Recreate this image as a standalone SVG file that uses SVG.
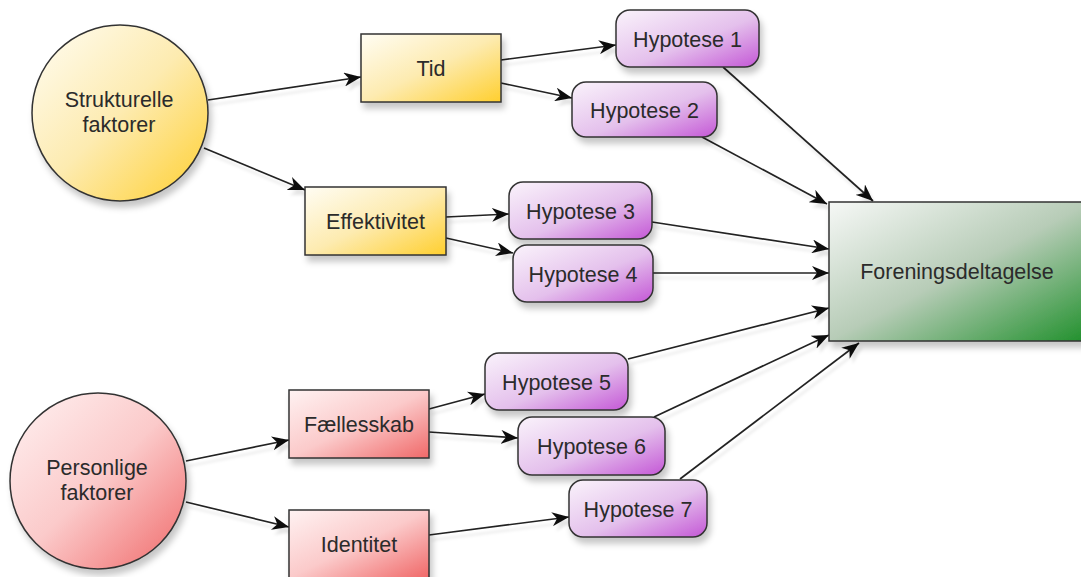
<svg xmlns="http://www.w3.org/2000/svg" width="1081" height="577" viewBox="0 0 1081 577">
  <defs>
    <linearGradient id="gYellow" x1="0" y1="0" x2="1" y2="1">
      <stop offset="0" stop-color="#fffdf4"/>
      <stop offset="0.5" stop-color="#fdebb0"/>
      <stop offset="1" stop-color="#ffcf2e"/>
    </linearGradient>
    <linearGradient id="gRed" x1="0" y1="0" x2="1" y2="1">
      <stop offset="0" stop-color="#fff2f2"/>
      <stop offset="0.5" stop-color="#fbcaca"/>
      <stop offset="1" stop-color="#f06868"/>
    </linearGradient>
    <linearGradient id="gPurple" x1="0" y1="0" x2="1" y2="1">
      <stop offset="0" stop-color="#faf3fb"/>
      <stop offset="0.55" stop-color="#e4c0ec"/>
      <stop offset="1" stop-color="#c457d6"/>
    </linearGradient>
    <linearGradient id="gGreen" x1="0" y1="0" x2="1" y2="1">
      <stop offset="0" stop-color="#f6f8f6"/>
      <stop offset="0.5" stop-color="#b7ccb7"/>
      <stop offset="1" stop-color="#1e8f2a"/>
    </linearGradient>
    <filter id="shadow" x="-20%" y="-20%" width="150%" height="160%">
      <feDropShadow dx="3" dy="6" stdDeviation="3" flood-color="#000" flood-opacity="0.22"/>
    </filter>
    <filter id="lshadow" x="-10%" y="-10%" width="130%" height="140%">
      <feDropShadow dx="3" dy="5" stdDeviation="1.5" flood-color="#000" flood-opacity="0.10"/>
    </filter>
    <marker id="arrow" markerUnits="userSpaceOnUse" markerWidth="18" markerHeight="14" refX="17" refY="7" orient="auto">
      <path d="M0,0 L17,7 L0,14 L5,7 Z" fill="#111"/>
    </marker>
  </defs>
  <style>
    .node { stroke: #333; stroke-width: 1.5; filter: url(#shadow); }
    .lbl { font-family: "Liberation Sans", Arial, sans-serif; font-size: 21.5px; fill: #2b2b2b; text-anchor: middle; }
    .conn line { stroke: #222; stroke-width: 1.7; marker-end: url(#arrow); }
  </style>

  <g id="connectors" class="conn" filter="url(#lshadow)">
    <line x1="208" y1="100" x2="361" y2="77"/>
    <line x1="204" y1="148" x2="305" y2="190"/>
    <line x1="501" y1="60" x2="616" y2="45"/>
    <line x1="501" y1="83" x2="572" y2="98"/>
    <line x1="446" y1="217" x2="509" y2="214"/>
    <line x1="446" y1="238" x2="513" y2="253"/>
    <line x1="723" y1="67" x2="873" y2="201"/>
    <line x1="702" y1="137" x2="827" y2="204"/>
    <line x1="652" y1="222" x2="829" y2="249"/>
    <line x1="653" y1="273" x2="829" y2="273"/>
    <line x1="628" y1="359" x2="829" y2="308"/>
    <line x1="654" y1="417" x2="829" y2="335"/>
    <line x1="680" y1="479" x2="859" y2="343"/>
    <line x1="186" y1="461" x2="289" y2="440"/>
    <line x1="186" y1="502" x2="289" y2="527"/>
    <line x1="429" y1="409" x2="485" y2="394"/>
    <line x1="429" y1="432" x2="518" y2="438"/>
    <line x1="429" y1="535" x2="569" y2="517"/>
  </g>

  <g id="strukturelle">
    <circle class="node" cx="120" cy="113" r="88" fill="url(#gYellow)"/>
    <text class="lbl" x="119" y="107">Strukturelle</text>
    <text class="lbl" x="119" y="132">faktorer</text>
  </g>
  <g id="personlige">
    <circle class="node" cx="98" cy="481" r="88" fill="url(#gRed)"/>
    <text class="lbl" x="97" y="475">Personlige</text>
    <text class="lbl" x="97" y="500">faktorer</text>
  </g>
  <g id="tid">
    <rect class="node" x="361" y="34" width="140" height="68" fill="url(#gYellow)"/>
    <text class="lbl" x="431" y="76">Tid</text>
  </g>
  <g id="effektivitet">
    <rect class="node" x="305" y="187" width="141" height="68" fill="url(#gYellow)"/>
    <text class="lbl" x="375.5" y="229">Effektivitet</text>
  </g>
  <g id="faellesskab">
    <rect class="node" x="289" y="390" width="140" height="68" fill="url(#gRed)"/>
    <text class="lbl" x="359" y="432">Fællesskab</text>
  </g>
  <g id="identitet">
    <rect class="node" x="289" y="510" width="140" height="68" fill="url(#gRed)"/>
    <text class="lbl" x="359" y="552">Identitet</text>
  </g>
  <g id="hyp1">
    <rect class="node" x="616" y="10" width="143" height="57" rx="14" fill="url(#gPurple)"/>
    <text class="lbl" x="687.5" y="46.5">Hypotese 1</text>
  </g>
  <g id="hyp2">
    <rect class="node" x="572" y="82" width="145" height="55" rx="14" fill="url(#gPurple)"/>
    <text class="lbl" x="644.5" y="117.5">Hypotese 2</text>
  </g>
  <g id="hyp3">
    <rect class="node" x="509" y="182" width="143" height="57" rx="14" fill="url(#gPurple)"/>
    <text class="lbl" x="580.5" y="218.5">Hypotese 3</text>
  </g>
  <g id="hyp4">
    <rect class="node" x="513" y="245" width="140" height="57" rx="14" fill="url(#gPurple)"/>
    <text class="lbl" x="583" y="281.5">Hypotese 4</text>
  </g>
  <g id="hyp5">
    <rect class="node" x="485" y="353" width="143" height="57" rx="14" fill="url(#gPurple)"/>
    <text class="lbl" x="556.5" y="389.5">Hypotese 5</text>
  </g>
  <g id="hyp6">
    <rect class="node" x="518" y="417" width="147" height="58" rx="14" fill="url(#gPurple)"/>
    <text class="lbl" x="591.5" y="454">Hypotese 6</text>
  </g>
  <g id="hyp7">
    <rect class="node" x="569" y="480" width="138" height="57" rx="14" fill="url(#gPurple)"/>
    <text class="lbl" x="638" y="516.5">Hypotese 7</text>
  </g>
  <g id="foreningsdeltagelse">
    <rect class="node" x="829" y="202" width="262" height="139" fill="url(#gGreen)"/>
    <text class="lbl" x="957" y="279">Foreningsdeltagelse</text>
  </g>
</svg>
